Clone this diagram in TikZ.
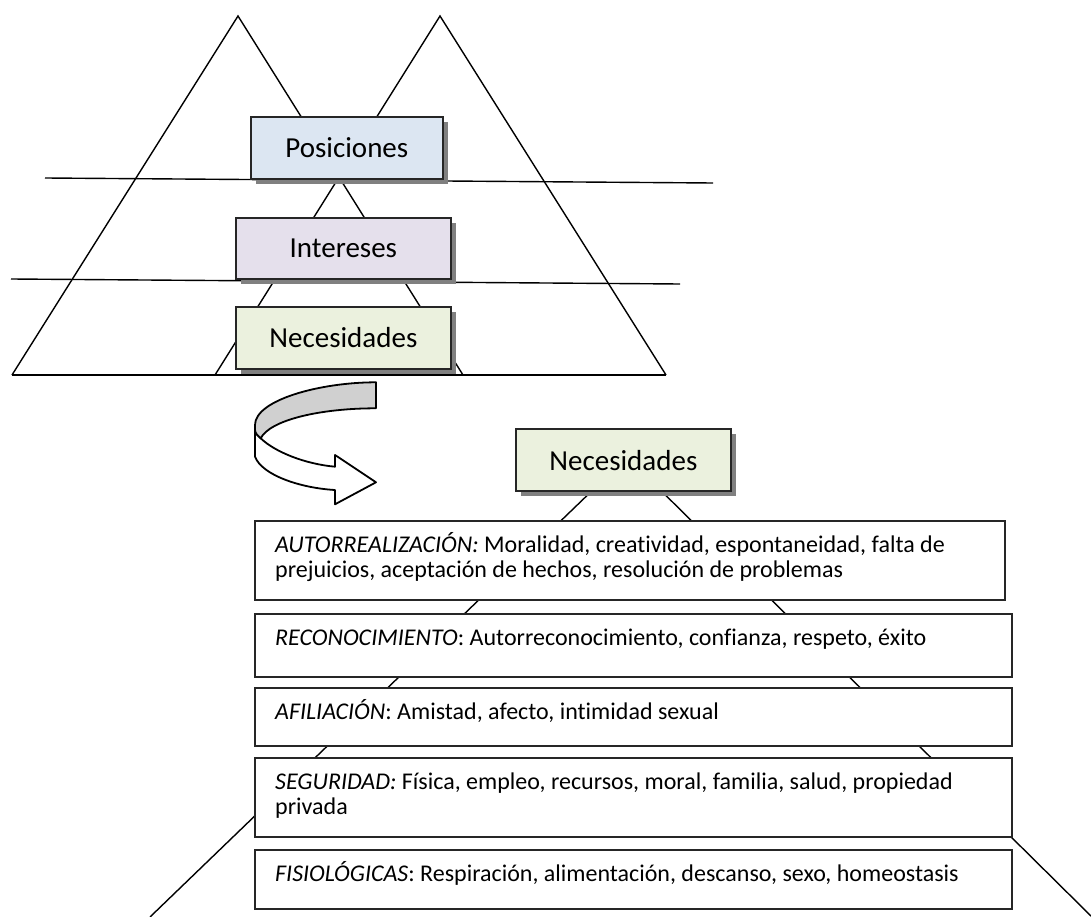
\documentclass[tikz,border=0pt]{standalone}
\usepackage{fontspec}
\setmainfont{Carlito}[Ligatures=NoCommon]
\usetikzlibrary{calc,shadows}

\definecolor{posfill}{HTML}{DCE6F2}
\definecolor{intfill}{HTML}{E5E0EC}
\definecolor{necfill}{HTML}{EBF1DE}
\definecolor{shadowgray}{HTML}{808080}
\definecolor{ribbongray}{HTML}{D0D0D0}

\begin{document}
\begin{tikzpicture}[x=1pt,y=-1pt,
  edge/.style={line width=1.4pt},
  tag/.style={draw=black!85, line width=2pt, inner sep=0pt, outer sep=0pt,
    minimum width=214.7pt, minimum height=62pt,
    font=\fontsize{29}{34}\selectfont,
    drop shadow={shadow xshift=5pt, shadow yshift=-5pt, fill=shadowgray, opacity=1}},
  levelbox/.style={draw=black!85, fill=white, line width=2pt, inner sep=0pt, outer sep=0pt,
    minimum width=757pt, anchor=north west},
  leveltext/.style={inner sep=0pt, anchor=base west,
    font=\fontsize{24}{25}\selectfont},
  ribbon/.style={line width=1.8pt, line join=round}
]
\useasboundingbox (0,0) rectangle (1091,917);
\fill[white] (0,0) rectangle (1091,917);

% --- two overlapping triangles -------------------------------------------
\coordinate (lapex) at (238,16);
\coordinate (lbl) at (12,375);
\coordinate (lbr) at (463,375);
\coordinate (rapex) at (440,16);
\coordinate (rbl) at (215,375);
\coordinate (rbr) at (666,375);
\draw[edge] (lbl) -- (lapex) -- (lbr);
\draw[edge] (rbl) -- (rapex) -- (rbr);
\draw[edge] (lbl) -- (rbr);

% --- horizontal separators -----------------------------------------------
\coordinate (s1a) at (45,178);
\coordinate (s1b) at (713,183);
\coordinate (s2a) at (11,279);
\coordinate (s2b) at (680,284);
\draw[edge] (s1a) -- (s1b);
\draw[edge] (s2a) -- (s2b);

% --- layer labels --------------------------------------------------------
\node[tag, fill=posfill, minimum width=191.7pt] (pos) at (346.85,148) {Posiciones};
\node[tag, fill=intfill, minimum height=61.3pt] (int) at (343.35,248.35) {Intereses};
\node[tag, fill=necfill] (nec) at (343.35,338) {Necesidades};

% --- curved ribbon arrow -------------------------------------------------
\filldraw[ribbon, fill=white]
  (255,430) -- (255,456.7)
  .. controls (262,475) and (300,488) .. (335,490)
  -- (335,504.3) -- (376,482.3) -- (335,455) -- (335,466.7)
  .. controls (305,464) and (275,452) .. (260.7,438.3)
  .. controls (258,436) and (255,433) .. (255,430) -- cycle;
\filldraw[ribbon, fill=ribbongray]
  (376,382.3) .. controls (320,382.3) and (255,400) .. (255,425)
  -- (255,430)
  .. controls (255,433) and (258,436) .. (260.7,438.3)
  .. controls (270,420) and (320,408.3) .. (376,408.3) -- cycle;

% --- Maslow pyramid ------------------------------------------------------
\coordinate (mapex) at (627,457);
\coordinate (mleft) at (150,917);
\coordinate (mright) at (1092,917);
\draw[edge] (mleft) -- (mapex) -- (mright);

\node[tag, fill=necfill] (nec2) at (623.35,460.35) {Necesidades};

\node[levelbox, minimum width=750pt, minimum height=79pt] (auto) at (255,521) {};
\node[levelbox, minimum height=62.5pt] (recon) at (255,614) {};
\node[levelbox, minimum height=58pt] (afil) at (255,688) {};
\node[levelbox, minimum height=78.5pt] (seg) at (255,758) {};
\node[levelbox, minimum height=58.5pt] (fisio) at (255,850) {};

\node[leveltext] (autotext) at ($(auto.north west)+(20,31)$)
  {\parbox[t]{740pt}{\raggedright\textit{AUTORREALIZACIÓN:} Moralidad, creatividad, espontaneidad, falta de\\
  prejuicios, aceptación de hechos, resolución de problemas}};
\node[leveltext] (recontext) at ($(recon.north west)+(20,31)$)
  {\textit{RECONOCIMIENTO}: Autorreconocimiento, confianza, respeto, éxito};
\node[leveltext] (afiltext) at ($(afil.north west)+(20,31)$)
  {\textit{AFILIACIÓN}: Amistad, afecto, intimidad sexual};
\node[leveltext] (segtext) at ($(seg.north west)+(20,31)$)
  {\parbox[t]{740pt}{\raggedright\textit{SEGURIDAD:} Física, empleo, recursos, moral, familia, salud, propiedad\\
  privada}};
\node[leveltext] (fisiotext) at ($(fisio.north west)+(20,31)$)
  {\textit{FISIOLÓGICAS}: Respiración, alimentación, descanso, sexo, homeostasis};
\end{tikzpicture}
\end{document}
